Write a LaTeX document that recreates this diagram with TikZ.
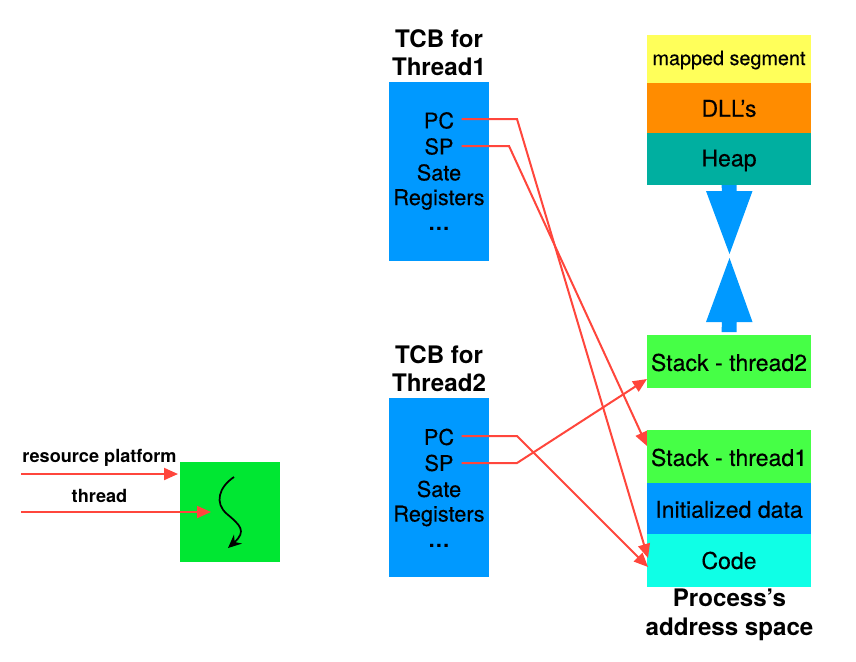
\documentclass[tikz,border=0pt]{standalone}
\usepackage{fontspec}
\setmainfont{TeX Gyre Heros}
\newfontfamily\medf{TeX Gyre Heros}[BoldFont=TeX Gyre Heros,BoldFeatures={FakeBold=0.25}]
\usetikzlibrary{arrows.meta,calc}
\definecolor{tcbblue}{RGB}{0,153,255}
\definecolor{threadgreen}{RGB}{0,231,50}
\definecolor{stackgreen}{RGB}{70,255,70}
\definecolor{mapyellow}{RGB}{255,255,90}
\definecolor{dllorange}{RGB}{255,140,0}
\definecolor{heapteal}{RGB}{0,175,160}
\definecolor{codecyan}{RGB}{15,255,230}
\definecolor{linkred}{RGB}{255,70,60}
\tikzset{
  x=0.75pt,y=-0.75pt,
  block/.style={inner sep=0pt,outer sep=0pt,minimum width=75pt,minimum height=134.25pt,fill=tcbblue},
  seg/.style={inner sep=0pt,outer sep=0pt,minimum width=123pt,text=black,font=\fontsize{17.3pt}{20pt}\selectfont\medf\bfseries},
  body/.style={inner sep=0pt,outer sep=0pt,minimum width=33.75pt,font=\fontsize{16.3pt}{19pt}\selectfont\medf\bfseries,anchor=center},
  head/.style={inner sep=0pt,align=center,font=\fontsize{18.1pt}{21.2pt}\selectfont\bfseries},
  small/.style={inner sep=0pt,font=\fontsize{13.6pt}{17pt}\selectfont\bfseries},
  link/.style={draw=linkred,line width=1.5pt,-{Triangle[length=10.5pt,width=9pt]},line join=miter},
  flow/.style={fill=tcbblue,draw=none}
}
\begin{document}
\begin{tikzpicture}
\useasboundingbox (0,0) rectangle (856,661);
% thread box
\node[inner sep=0pt,outer sep=0pt,minimum size=75pt,fill=threadgreen] (thr) at (230,512) {};
\node[small] (lres) at (99.5,458) {resource platform};
\node[small] (lthr) at (99.5,496) {thread};
\coordinate (rs) at (21,474);
\coordinate (ts) at (21,512);
\draw[link] (rs) -- ($(thr.west)+(-2,-38)$);
\draw[link] (ts) -- ($(thr.west)+(31,0)$);
\draw[line width=1.3pt,-{Stealth[length=10pt,width=9pt]}] (234,477) .. controls (219,487) and (214,503) .. (227,514) .. controls (240,525) and (247,531) .. (228,548);
% TCB 1
\node[head] (h1) at (439,53) {TCB for\\Thread1};
\node[block] (tcb1) at (439,171.5) {};
\node[body] (pc1) at (439,120.5) {PC};
\node[body] (sp1) at (439,146.5) {SP};
\node[body] (st1) at (439,172.5) {Sate};
\node[body] (rg1) at (439,199.5) {Registers};
\node[body] (dt1) at (439,229) {\fontspec{TeX Gyre Heros Bold}…};
% TCB 2
\node[head] (h2) at (439,369) {TCB for\\Thread2};
\node[block] (tcb2) at (439,487.5) {};
\node[body] (pc2) at (439,437) {PC};
\node[body] (sp2) at (439,463) {SP};
\node[body] (st2) at (439,489) {Sate};
\node[body] (rg2) at (439,516) {Registers};
\node[body] (dt2) at (439,546) {\fontspec{TeX Gyre Heros Bold}…};
% address space
\node[seg,fill=mapyellow,minimum height=36pt] (map) at (729,59) {};
\node[inner sep=0pt,font=\fontsize{14.85pt}{17pt}\selectfont\medf\bfseries] (maplab) at (729,60) {mapped segment};
\node[seg,fill=dllorange,minimum height=37.5pt] (dll) at (729,108) {};
\node[seg] (dlllab) at (729,108.5) {DLL’s};
\node[seg,fill=heapteal,minimum height=39pt] (heap) at (729,159) {};
\node[seg] (heaplab) at (729,160.5) {Heap};
\node[seg,fill=stackgreen,minimum height=39.75pt] (st2seg) at (729,361.5) {};
\node[seg] (st2lab) at (729,362.5) {Stack - thread2};
\node[seg,fill=stackgreen,minimum height=39.75pt] (st1seg) at (729,456.5) {};
\node[seg] (st1lab) at (729,457.5) {Stack - thread1};
\node[seg,fill=tcbblue,minimum height=38.25pt] (init) at (729,508.5) {};
\node[seg] (initlab) at (729,509.5) {Initialized data};
\node[seg,fill=codecyan,minimum height=39.75pt] (code) at (729,560.5) {};
\node[seg] (codelab) at (729,560.5) {Code};
\node[head,font=\fontsize{18.1pt}{21.7pt}\selectfont\bfseries] (proc) at (729.5,615) {Process’s\\address space};
% heap/stack double arrow
\fill[flow] ($(heap.south)+(-7.5,0)$) -- ++(15,0) -- ++(0,6) -- ++(16,0) -- (729.5,254) -- (706,191) -- ++(16,0) -- cycle;
\fill[flow] ($(st2seg.north)+(-7.5,-3)$) -- ++(15,0) -- ++(0,-10) -- ++(16,0) -- (729.5,258) -- (706,322) -- ++(16,0) -- cycle;
% links
\draw[link] ($(pc1.center)+(22.5,-1.5)$) -- (517,119) -- ($(code.west)+(1,-2.5)$);
\draw[link] ($(sp1.center)+(22.5,-0.5)$) -- (509,146) -- ($(st1seg.west)+(0,-10.5)$);
\draw[link] ($(pc2.center)+(22.5,-1)$) -- (517,436) -- ($(code.west)+(1,6.5)$);
\draw[link] ($(sp2.center)+(22.5,0)$) -- (517,463) -- ($(st2seg.west)+(0,17.5)$);
\end{tikzpicture}
\end{document}
